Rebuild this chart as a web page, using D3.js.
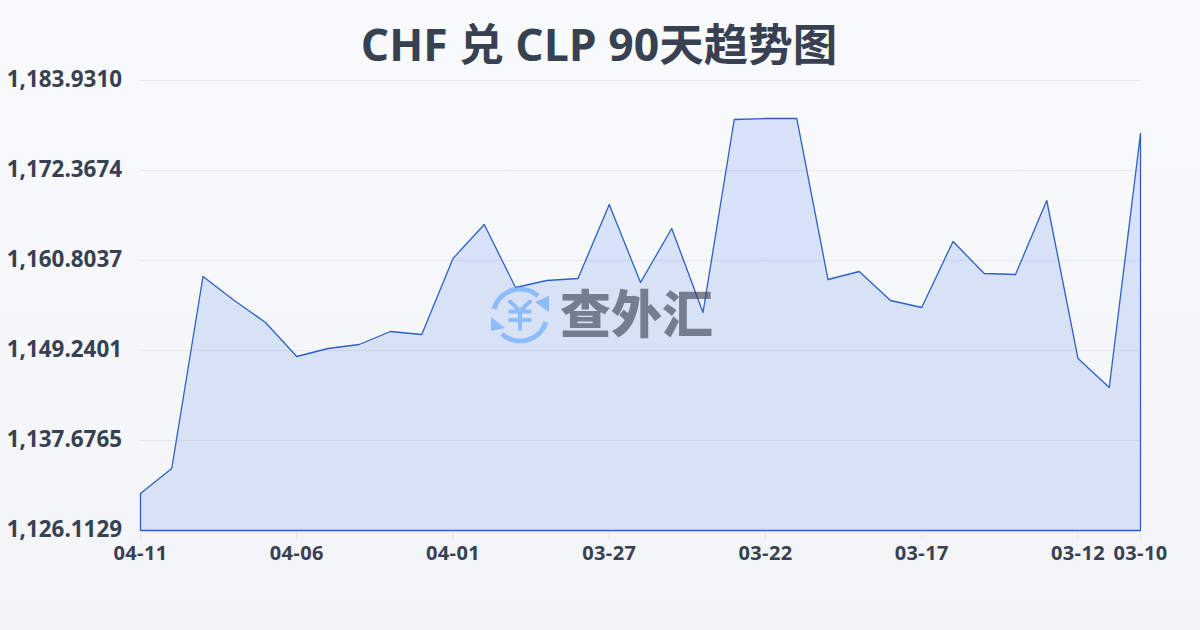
<!DOCTYPE html>
<html><head><meta charset="utf-8">
<script src="https://cdn.jsdelivr.net/npm/d3@7"></script>
<style>html,body{margin:0;padding:0;background:#f8fafc}svg{display:block}
text{font-family:"Open Sans","Noto Sans CJK SC",sans-serif}</style></head><body>
<div id="c"></div>
<script>
const titleText = "CHF 兑 CLP 90天趋势图";
const dates = ["04-11","04-10","04-09","04-08","04-07","04-06","04-05","04-04","04-03","04-02","04-01","03-31","03-30","03-29","03-28","03-27","03-26","03-25","03-24","03-23","03-22","03-21","03-20","03-19","03-18","03-17","03-16","03-15","03-14","03-13","03-12","03-11","03-10"];
const rates = [1130.867,1134.079,1158.748,1155.664,1152.838,1148.469,1149.497,1150.011,1151.681,1151.296,1161.061,1165.429,1157.335,1158.234,1158.491,1167.999,1157.977,1164.915,1154.122,1178.920,1179.049,1179.049,1158.362,1159.390,1155.664,1154.765,1163.245,1159.133,1159.005,1168.513,1148.212,1144.486,1177.121];
const yTicks = [1126.1129,1137.6765,1149.2401,1160.8037,1172.3674,1183.9310];
const xTicks = ["04-11","04-06","04-01","03-27","03-22","03-17","03-12","03-10"];
const W=1200,H=630;
const svg=d3.select("#c").append("svg").attr("width",W).attr("height",H);
const defs=svg.append("defs");
const bg=defs.append("linearGradient").attr("id","bg").attr("x1",0).attr("x2",0).attr("y1",0).attr("y2",1);
bg.append("stop").attr("offset",0).attr("stop-color","#f9fafc");
bg.append("stop").attr("offset",1).attr("stop-color","#f3f4f6");
const ag=defs.append("linearGradient").attr("id","ag").attr("x1",0).attr("x2",0).attr("y1",0).attr("y2",1);
ag.append("stop").attr("offset",0).attr("stop-color","#2563eb").attr("stop-opacity",.155);
ag.append("stop").attr("offset",1).attr("stop-color","#2563eb").attr("stop-opacity",.13);
svg.append("rect").attr("width",W).attr("height",H).attr("fill","url(#bg)");
const x=d3.scalePoint().domain(dates).range([140.5,1140.5]);
const y=d3.scaleLinear().domain([yTicks[0],yTicks[5]]).range([530.5,80.5]);
const ink="#374151";
svg.append("text").attr("x",599).attr("y",61).attr("text-anchor","middle").attr("font-size",44.5).attr("font-weight",700).attr("fill",ink).text(titleText);
// grid
svg.append("g").selectAll("line").data(yTicks.slice(1)).join("line")
 .attr("x1",140).attr("x2",1140).attr("y1",d=>Math.floor(y(d))+.5).attr("y2",d=>Math.floor(y(d))+.5)
 .attr("stroke","#e5e7eb").attr("stroke-width",1);
// x ticks beneath the area
const xAxis=d3.axisBottom(x).tickValues(xTicks).tickSize(10).tickPadding(6).offset(0);
const gx=svg.append("g").attr("transform","translate(0,530)").call(xAxis);
gx.select(".domain").remove();
gx.selectAll("line").attr("stroke","#e5e7eb");
gx.selectAll("text").attr("font-size",20).attr("font-weight",700).attr("letter-spacing",.4).attr("fill",ink).style("font-family",'"Open Sans",sans-serif');
// area
const pts=dates.map((d,i)=>({d,v:rates[i]}));
const area=d3.area().x(p=>x(p.d)).y0(y(yTicks[0])).y1(p=>y(p.v));
svg.append("path").datum(pts).attr("d",area).attr("fill","url(#ag)").attr("stroke","#2c60c8").attr("stroke-width",1.3).attr("stroke-linejoin","round");
// y axis
const yAxis=d3.axisLeft(y).tickValues(yTicks).tickSize(0).tickPadding(0).tickFormat(d3.format(",.4f")).offset(0);
const gy=svg.append("g").attr("transform","translate(122,0)").call(yAxis);
gy.select(".domain").remove();
gy.selectAll("text").attr("font-size",22.4).attr("font-weight",700).attr("fill",ink).style("font-family",'"Open Sans",sans-serif').attr("dy","0.3em");
// watermark
const wm=svg.append("g").attr("opacity",.62);
const ic=wm.append("g").attr("transform","translate(520,315)").attr("fill","none").attr("stroke","#60a5fa");
ic.append("path").attr("stroke-width",5).attr("d","M-26,-6 A27,27 0 0 1 18,-19");
ic.append("path").attr("stroke-width",5).attr("d","M26,7 A27,27 0 0 1 -18,19");
ic.append("path").attr("fill","#60a5fa").attr("stroke","none").attr("d","M15,-13 L29,-19 L29,-3 Z");
ic.append("path").attr("fill","#60a5fa").attr("stroke","none").attr("d","M-15,13 L-29,16 L-29,2 Z");
ic.append("path").attr("stroke-width",4).attr("stroke-linecap","round").attr("d","M-10,-13.5 L0,-4 L10,-13.5 M-10,-3.5 H10 M-10,5 H10 M0,-4 V14");
wm.append("text").attr("x",560).attr("y",333).attr("font-size",51).attr("font-weight",900).attr("fill","#374151").style("font-family",'"Noto Sans CJK SC"').text("查外汇");
</script></body></html>
